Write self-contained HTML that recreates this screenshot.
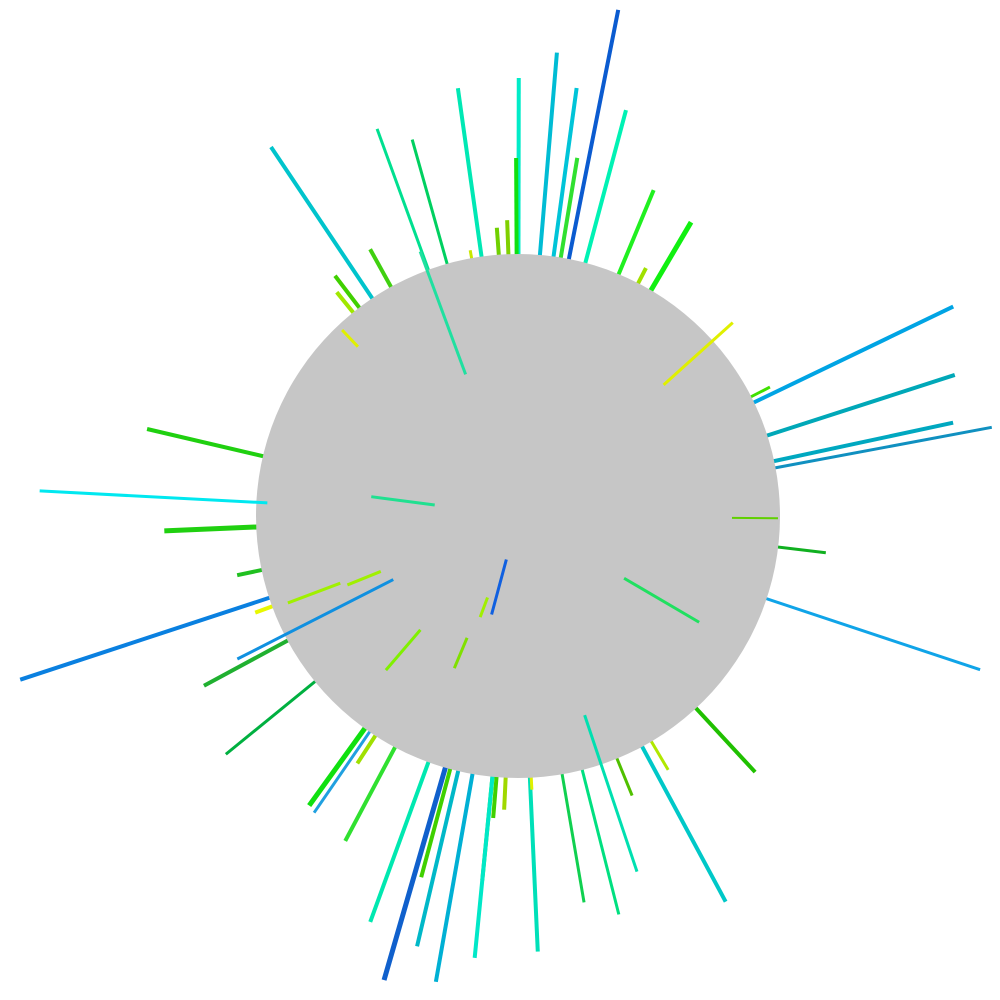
<!DOCTYPE html>
<html><head><meta charset="utf-8"><style>
html,body{margin:0;padding:0;background:#fff;width:1000px;height:1000px;overflow:hidden}
svg{display:block}
</style></head><body>
<svg id="chart" width="1000" height="1000" viewBox="0 0 1000 1000"></svg>
<script>
// Radial segments: angle (deg clockwise from north), inner radius, outer radius
const angles = [11.2,4.8,0.1,7.8,14.9,-8.0,-20,-15.7,-33.8,-0.3,9.4,22.6,30.5,-29,-37.3,-39,-2.1,-4.2,-10.2,27.3,64.3,72.1,77.9,79.4,62.9,96.8,108.4,137.2,151.7,149.4,157.8,165.8,170.3,177.4,177.1,182.7,184.7,185.6,185.6,190,193.2,196.1,195,200,208,215.8,214.5,213,230.8,241.6,251.8,249.8,258.1,267.6,283.2];
const innerR = [150,150,150,150,150,150,150,150,150,150,150,150,150,150,150,150,150,150,150,150,150,150,150,150,150,150,150,150,150,150,150,150,150,150,150,150,150,150,150,150,150,150,150,150,150,150,150,150,150,150,150,150,150,150,150];
const outerR = [516,465,438,432,420,432,412,391,444,358,363,353,341,305,302,288,296,289,270,279,483,459,445,482,283,310,487,349,438,295,302,411,392,436,274,294,303,366,444,473,442,483,374,432,368,357,360,295,377,357,524,280,287,354,381];
const colors = ["#0b5bd0","#00bcd4","#00ecc8","#00c4d8","#00f2b4","#00e8b4","#00e090","#00d060","#00c4cc","#10e010","#30e030","#20f020","#10f010","#40d010","#40d000","#a0e800","#80d000","#70d000","#c8e800","#a0e000","#00a4e4","#00a8b8","#00a8c0","#1090c0","#40e000","#10b020","#10a4e8","#20c000","#00c8c8","#b0e800","#50c000","#00e080","#10d050","#00e0b8","#e0f000","#a0d800","#40d000","#10e030","#00e8c8","#00b0d4","#00b8c8","#1060cc","#40d000","#00e8b0","#30e030","#10e010","#20a0e0","#a0e000","#00b040","#20b030","#0a80e0","#e8f800","#20c020","#20d010","#20d010"];
const widths = [4,4,4,4,4,4,3,3,4,4,4,4,5,4,4,4,4,4,3,4,4,4,4,3,3,3,3,4,4,3,3,3,3,4,3,4,4,4,4,4,4,5,4,4,4,5,3,4,3,4,4,4,4,5,4];
// Segments drawn over the disc
const topAngles = [48,90.5,161.5,273,277.5,-20.3,-43.4,248,249.3,220.6,202.7,200.5,195,120.4,243];
const topInner = [196,214,210,251,84,151,233,148,190,150,132,87,45,123,140];
const topOuter = [289,260,375,479,148,282,256,184,246,203,165,108,102,210,315];
const topColors = ["#e0f000","#60d000","#00e0b0","#00e8f0","#20e090","#20e0a0","#e0f000","#a0f000","#a0f000","#80f000","#80e000","#a0f000","#1060e0","#20e060","#1090e0"];
const topWidths = [3,2,3,3,3,3,3,3,3,3,3,3,3,3,3];

const cx = 518, cy = 516, discR = 262;
const NS = "http://www.w3.org/2000/svg";
const svg = document.getElementById("chart");
function px(a, r){ return cx + r*Math.sin(a*Math.PI/180); }
function py(a, r){ return cy - r*Math.cos(a*Math.PI/180); }
function seg(a, r0, r1, c, w, name){
  const l = document.createElementNS(NS,"line");
  l.setAttribute("x1", px(a,r0)); l.setAttribute("y1", py(a,r0));
  l.setAttribute("x2", px(a,r1)); l.setAttribute("y2", py(a,r1));
  l.setAttribute("stroke", c); l.setAttribute("stroke-width", w);
  
  
  svg.appendChild(l);
}
for (let i=0;i<angles.length;i++) seg(angles[i], innerR[i], outerR[i], colors[i], widths[i], 'radial-line');
const disc = document.createElementNS(NS,"circle");
disc.setAttribute("cx", cx); disc.setAttribute("cy", cy); disc.setAttribute("r", discR);
disc.setAttribute("fill", "#c6c6c6");


svg.appendChild(disc);
for (let i=0;i<topAngles.length;i++) seg(topAngles[i], topInner[i], topOuter[i], topColors[i], topWidths[i], 'overlay-line');
</script>
</body></html>
